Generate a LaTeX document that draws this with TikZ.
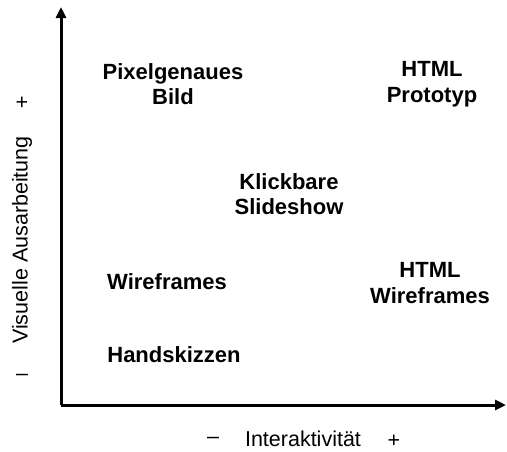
\documentclass[tikz,border=0pt]{standalone}
\usepackage{fontspec}
\setmainfont{Liberation Sans}
\usetikzlibrary{arrows.meta}
\begin{document}
\begin{tikzpicture}[x=1pt,y=-1pt,
  axis/.style={line width=3pt,-{Triangle[length=11pt,width=10pt]}},
  item/.style={font=\fontsize{22}{25.5}\selectfont\bfseries,align=center,inner sep=0pt},
  lbl/.style={font=\fontsize{21.5}{24}\selectfont,inner sep=0pt}]
\useasboundingbox (0,0) rectangle (507,451);
% axes
\coordinate (o) at (61,405);
\coordinate (ytop) at (61,7);
\coordinate (xend) at (506,405);
\draw[axis] (o) -- (ytop);
\draw[axis] (o) -- (xend);
% approaches
\node[item] (pix) at (173,84) {Pixelgenaues\\Bild};
\node[item] (proto) at (432,84) {HTML\\Prototyp};
\node[item] (klick) at (289,194) {Klickbare\\Slideshow};
\node[item] (wire) at (167,282) {Wireframes};
\node[item] (hwire) at (430,283) {HTML\\Wireframes};
\node[item] (hand) at (174,355) {Handskizzen};
% axis labels
\node[lbl,rotate=90] (ylab) at (22,240) {Visuelle Ausarbeitung};
\node[lbl] (yplus) at (22,103) {+};
\node[lbl] (yminus) at (22,377) {--};
\node[lbl] (xlab) at (303,439) {Interaktivität};
\node[lbl] (xminus) at (213,440) {--};
\node[lbl] (xplus) at (394,441) {+};
\end{tikzpicture}
\end{document}
